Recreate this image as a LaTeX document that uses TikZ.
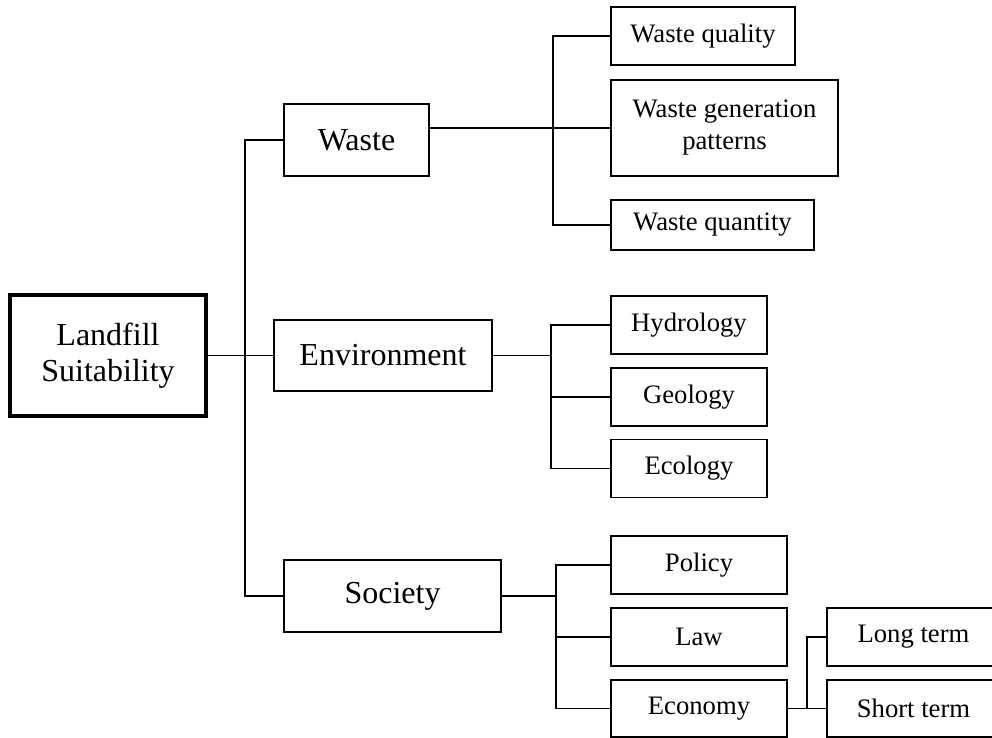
\documentclass[tikz,border=0pt]{standalone}
\usepackage{fontspec}
\setmainfont{Liberation Serif}
\begin{document}
\begin{tikzpicture}[x=0.75pt,y=-0.75pt,
  line width=1.1pt,
  box/.style={draw,line width=1.1pt,inner sep=0pt,align=center,fill=white},
  bigbox/.style={box,font=\fontsize{24}{27}\selectfont},
  smallbox/.style={box,font=\fontsize{20}{24}\selectfont},
  rootbox/.style={bigbox,line width=2.4pt}]
\useasboundingbox (0,0) rectangle (992,738);

% root and first level
\node[rootbox,minimum width=147pt,minimum height=90.75pt] (land) at (108,355.5) {Landfill\\Suitability};
\node[bigbox,minimum width=108.75pt,minimum height=54pt] (waste) at (356.5,140) {Waste};
\node[bigbox,minimum width=163.5pt,minimum height=53.25pt] (env) at (383,355.5) {Environment};
\node[bigbox,minimum width=162.75pt,minimum height=54pt] (soc) at (392.5,596) {Society};

% waste factors
\node[smallbox,minimum width=138pt,minimum height=43.5pt] (wq) at (703,36) {Waste quality};
\node[smallbox,minimum width=170.25pt,minimum height=72pt] (wgp) at (724.5,128) {Waste generation\\patterns};
\node[smallbox,minimum width=152.25pt,minimum height=37.5pt] (wqt) at (712.5,225) {Waste quantity};

% environment factors
\node[smallbox,minimum width=117pt,minimum height=43.5pt] (hyd) at (689,325) {Hydrology};
\node[smallbox,minimum width=117pt,minimum height=43.5pt] (geo) at (689,397) {Geology};
\node[smallbox,minimum width=117pt,minimum height=43.5pt] (ecol) at (689,468.5) {Ecology};

% society factors
\node[smallbox,minimum width=132pt,minimum height=43.5pt] (pol) at (699,565) {Policy};
\node[smallbox,minimum width=132pt,minimum height=43.5pt] (law) at (699,637) {Law};
\node[smallbox,minimum width=132pt,minimum height=42.75pt] (econ) at (699,708.5) {Economy};

% economy factors
\node[smallbox,minimum width=129.75pt,minimum height=43.5pt] (long) at (913.5,637) {Long term};
\node[smallbox,minimum width=129.75pt,minimum height=42.75pt] (short) at (913.5,708.5) {Short term};

% bus lines
\coordinate (mb) at (245,0);
\coordinate (wb) at (553,0);
\coordinate (eb) at (551,0);
\coordinate (sb) at (556,0);
\coordinate (cb) at (807,0);

\draw (land.east) -- (env.west);
\draw (waste.west) -- (waste.west -| mb) -- (soc.west -| mb) -- (soc.west);

\draw (waste.east |- wgp.west) -- (wgp.west);
\draw (wq.west) -- (wq.west -| wb) -- (wqt.west -| wb) -- (wqt.west);

\draw (env.east) -- (env.east -| eb);
\draw (hyd.west) -- (hyd.west -| eb) -- (ecol.west -| eb) -- (ecol.west);
\draw (geo.west) -- (geo.west -| eb);

\draw (soc.east) -- (soc.east -| sb);
\draw (pol.west) -- (pol.west -| sb) -- (econ.west -| sb) -- (econ.west);
\draw (law.west) -- (law.west -| sb);

\draw (econ.east) -- (short.west);
\draw (long.west) -- (long.west -| cb) -- (econ.east -| cb);
\end{tikzpicture}
\end{document}
